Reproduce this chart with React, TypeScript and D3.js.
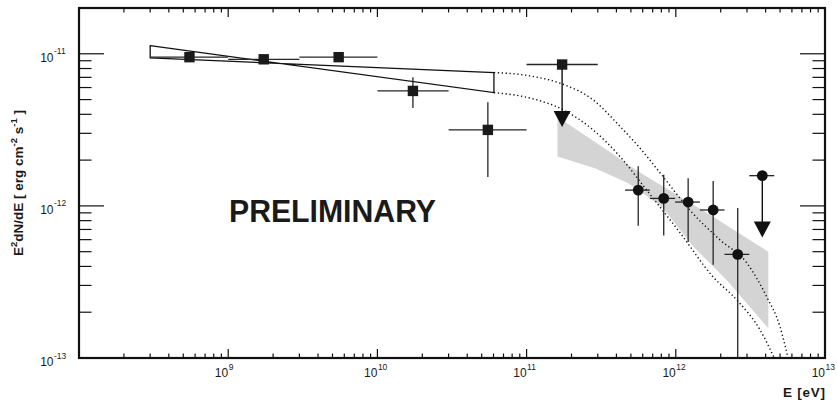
import React from "react";
import * as d3 from "d3";

// Fermi-LAT points (squares); last one is an upper limit
const fermiE = [5.5e8, 1.73e9, 5.5e9, 1.73e10, 5.5e10, 1.73e11];
const fermiElo = [3e8, 1e9, 3e9, 1e10, 3e10, 1e11];
const fermiEhi = [1e9, 3e9, 1e10, 3e10, 1e11, 3e11];
const fermiF = [9.5e-12, 9.2e-12, 9.5e-12, 5.7e-12, 3.16e-12, 8.5e-12];
const fermiFlo = [9.2e-12, 8.9e-12, 9.1e-12, 4.4e-12, 1.55e-12, 8.5e-12];
const fermiFhi = [9.8e-12, 9.5e-12, 9.9e-12, 7.0e-12, 4.8e-12, 8.5e-12];
const fermiLimit = [false, false, false, false, false, true];
const fermiArrowTip = 3.3e-12;

// H.E.S.S. points (circles); last one is an upper limit
const hessE = [5.6e11, 8.3e11, 1.21e12, 1.78e12, 2.6e12, 3.8e12];
const hessElo = [4.57e11, 6.7e11, 9.9e11, 1.45e12, 2.12e12, 3.11e12];
const hessEhi = [6.7e11, 9.9e11, 1.45e12, 2.12e12, 3.11e12, 4.57e12];
const hessF = [1.27e-12, 1.12e-12, 1.06e-12, 9.4e-13, 4.8e-13, 1.58e-12];
const hessFlo = [7.4e-13, 6.4e-13, 5.8e-13, 4.1e-13, 1e-14, 1.58e-12];
const hessFhi = [1.82e-12, 1.6e-12, 1.52e-12, 1.46e-12, 9.7e-13, 1.58e-12];
const hessLimit = [false, false, false, false, false, true];
const hessArrowTip = 6.2e-13;

// Fermi butterfly (bow tie): corners [E, F]
const fermiBowtie = [
  [3e8, 1.13e-11],
  [6.04e10, 5.56e-12],
  [6.04e10, 7.53e-12],
  [3e8, 9.4e-12],
];

// H.E.S.S. butterfly envelope
const hessBandTop = [
  [1.61e11, 3.85e-12],
  [3.72e11, 2.22e-12],
  [5.61e11, 1.68e-12],
  [1.78e12, 8.5e-13],
  [4.17e12, 5.0e-13],
];
const hessBandBottom = [
  [1.61e11, 2.11e-12],
  [2.87e11, 1.77e-12],
  [4.81e11, 1.41e-12],
  [8.04e11, 9.9e-13],
  [1.31e12, 5.4e-13],
  [2.19e12, 3.26e-13],
  [4.17e12, 1.57e-13],
];

// dotted extrapolations (cut-off models)
const modelUpper = [
  [6.04e10, 7.53e-12],
  [1.05e11, 7.16e-12],
  [1.67e11, 6.41e-12],
  [2.79e11, 4.98e-12],
  [4.23e11, 3.33e-12],
  [5.9e11, 2.33e-12],
  [8.2e11, 1.56e-12],
  [1.24e12, 9.4e-13],
  [1.98e12, 5.97e-13],
  [2.99e12, 4.22e-13],
  [4.06e12, 2.53e-13],
  [4.99e12, 1.61e-13],
  [5.65e12, 1.0e-13],
];
const modelLower = [
  [6.04e10, 5.56e-12],
  [1.05e11, 5.12e-12],
  [1.75e11, 4.29e-12],
  [2.79e11, 3.16e-12],
  [4.23e11, 2.11e-12],
  [6.38e11, 1.27e-12],
  [1.07e12, 6.64e-13],
  [1.77e12, 3.43e-13],
  [2.56e12, 2.41e-13],
  [3.67e12, 1.53e-13],
  [4.57e12, 1.0e-13],
];

const xDecades = [8, 9, 10, 11, 12, 13];
const xLabelDecades = [9, 10, 11, 12, 13];
const yDecades = [-13, -12, -11];
const yLabelDecades = [-13, -12, -11];

const W = 837;
const H = 402;
const margins = { top: 8, right: 12, bottom: 44, left: 79 };
const font = "'Liberation Sans', Arial, Helvetica, sans-serif";

const App = () => {
  const x = d3
    .scaleLog()
    .domain([1e8, 1e13])
    .range([margins.left, W - margins.right]);
  const y = d3
    .scaleLog()
    .domain([1e-13, 2e-11])
    .range([H - margins.bottom, margins.top])
    .clamp(true);

  const x0 = margins.left;
  const x1 = W - margins.right;
  const y0 = H - margins.bottom;
  const y1 = margins.top;

  const xMajor = xDecades.map((d) => Math.pow(10, d));
  const xMinor = xDecades
    .flatMap((d) => d3.range(2, 10).map((k) => k * Math.pow(10, d)))
    .filter((v) => v < 1e13);
  const yMajor = yDecades.map((d) => Math.pow(10, d));
  const yMinor = yDecades
    .flatMap((d) => d3.range(2, 10).map((k) => k * Math.pow(10, d)))
    .filter((v) => v <= 2e-11);

  const line = d3
    .line<number[]>()
    .x((d) => x(d[0]))
    .y((d) => y(d[1]));
  const smooth = d3
    .line<number[]>()
    .x((d) => x(d[0]))
    .y((d) => y(d[1]))
    .curve(d3.curveMonotoneX);

  const band = line([...hessBandTop, ...hessBandBottom.slice().reverse()]) + "Z";
  const bowtie = line(fermiBowtie) + "Z";

  const errColor = "#262626";

  const errorBars = (
    E: number[],
    Elo: number[],
    Ehi: number[],
    F: number[],
    Flo: number[],
    Fhi: number[],
    key: string
  ) =>
    E.map((e, i) => (
      <g key={key + i} stroke={errColor} strokeWidth={1.3}>
        <line x1={x(Elo[i])} x2={x(Ehi[i])} y1={y(F[i])} y2={y(F[i])} />
        <line x1={x(e)} x2={x(e)} y1={y(Flo[i])} y2={y(Fhi[i])} />
      </g>
    ));

  const arrow = (e: number, f: number, tip: number, key: string) => {
    const cx = x(e);
    const ty = y(tip);
    return (
      <g key={key}>
        <line x1={cx} x2={cx} y1={y(f)} y2={ty - 15} stroke="#111" strokeWidth={1.4} />
        <path
          d={`M${cx - 8.5},${ty - 16}L${cx + 8.5},${ty - 16}L${cx},${ty}Z`}
          fill="#111"
        />
      </g>
    );
  };

  return (
    <svg
      width={W}
      height={H}
      style={{ position: "absolute", left: 0, top: 0, background: "#fff" }}
      fontFamily={font}
    >
      <rect x={0} y={0} width={W} height={H} fill="#fff" />
      <path d={band} fill="#d4d4d4" stroke="none" />

      <path
        d={smooth(modelUpper) || ""}
        fill="none"
        stroke="#111"
        strokeWidth={1.4}
        strokeDasharray="1.3 2.6"
      />
      <path
        d={smooth(modelLower) || ""}
        fill="none"
        stroke="#111"
        strokeWidth={1.4}
        strokeDasharray="1.3 2.6"
      />

      <path d={bowtie} fill="none" stroke="#111" strokeWidth={1.3} />

      {errorBars(fermiE, fermiElo, fermiEhi, fermiF, fermiFlo, fermiFhi, "fe")}
      {errorBars(hessE, hessElo, hessEhi, hessF, hessFlo, hessFhi, "he")}

      {fermiE.map((e, i) =>
        fermiLimit[i] ? arrow(e, fermiF[i], fermiArrowTip, "fa" + i) : null
      )}
      {hessE.map((e, i) =>
        hessLimit[i] ? arrow(e, hessF[i], hessArrowTip, "ha" + i) : null
      )}

      {fermiE.map((e, i) => (
        <rect
          key={"fs" + i}
          x={x(e) - 5.2}
          y={y(fermiF[i]) - 5.2}
          width={10.4}
          height={10.4}
          fill="#1a1a1a"
        />
      ))}
      {hessE.map((e, i) => (
        <circle key={"hc" + i} cx={x(e)} cy={y(hessF[i])} r={5.4} fill="#111" />
      ))}

      <text
        x={229}
        y={222}
        fontSize={31}
        fontWeight="bold"
        fill="#1a1a1a"
        textLength={207}
        lengthAdjust="spacingAndGlyphs"
      >
        PRELIMINARY
      </text>

      {/* ticks */}
      <g stroke="#111" strokeWidth={1.2}>
        {xMajor.map((v) => (
          <g key={"xM" + v}>
            <line x1={x(v)} x2={x(v)} y1={y0} y2={y0 - 9} />
            <line x1={x(v)} x2={x(v)} y1={y1} y2={y1 + 9} />
          </g>
        ))}
        {xMinor.map((v) => (
          <g key={"xm" + v}>
            <line x1={x(v)} x2={x(v)} y1={y0} y2={y0 - 4.5} />
            <line x1={x(v)} x2={x(v)} y1={y1} y2={y1 + 4.5} />
          </g>
        ))}
        {yMajor.map((v) => (
          <g key={"yM" + v}>
            <line x1={x0} x2={x0 + 25} y1={y(v)} y2={y(v)} />
            <line x1={x1} x2={x1 - 25} y1={y(v)} y2={y(v)} />
          </g>
        ))}
        {yMinor.map((v) => (
          <g key={"ym" + v}>
            <line x1={x0} x2={x0 + 12.5} y1={y(v)} y2={y(v)} />
            <line x1={x1} x2={x1 - 12.5} y1={y(v)} y2={y(v)} />
          </g>
        ))}
      </g>

      <rect
        x={x0}
        y={y1}
        width={x1 - x0}
        height={y0 - y1}
        fill="none"
        stroke="#111"
        strokeWidth={2.2}
      />

      {/* tick labels */}
      {xLabelDecades.map((d) => (
        <g key={"xl" + d} fill="#1a1a1a">
          <text x={x(Math.pow(10, d))} y={377} fontSize={12} textAnchor="end">
            10
          </text>
          <text x={x(Math.pow(10, d)) + 0.5} y={369.5} fontSize={8.5}>
            {d}
          </text>
        </g>
      ))}
      {yLabelDecades.map((d) => (
        <g key={"yl" + d} fill="#1a1a1a">
          <text x={53.5} y={y(Math.pow(10, d)) + 8} fontSize={12} textAnchor="end">
            10
          </text>
          <text x={54} y={y(Math.pow(10, d)) + 0.5} fontSize={8.5}>
            {d}
          </text>
        </g>
      ))}

      <text
        x={825}
        y={397}
        fontSize={13.5}
        fontWeight="bold"
        textAnchor="end"
        fill="#1a1a1a"
        textLength={42}
        lengthAdjust="spacing"
      >
        E [eV]
      </text>

      <text
        transform="translate(22.5,183) rotate(-90)"
        fontSize={13.5}
        fontWeight="bold"
        textAnchor="middle"
        fill="#1a1a1a"
      >
        E<tspan dy={-5.5} fontSize={9.5}>2</tspan>
        <tspan dy={5.5}>dN/dE [ erg cm</tspan>
        <tspan dy={-5.5} fontSize={9.5}>-2</tspan>
        <tspan dy={5.5}> s</tspan>
        <tspan dy={-5.5} fontSize={9.5}>-1</tspan>
        <tspan dy={5.5}> ]</tspan>
      </text>
    </svg>
  );
};

export default App;
